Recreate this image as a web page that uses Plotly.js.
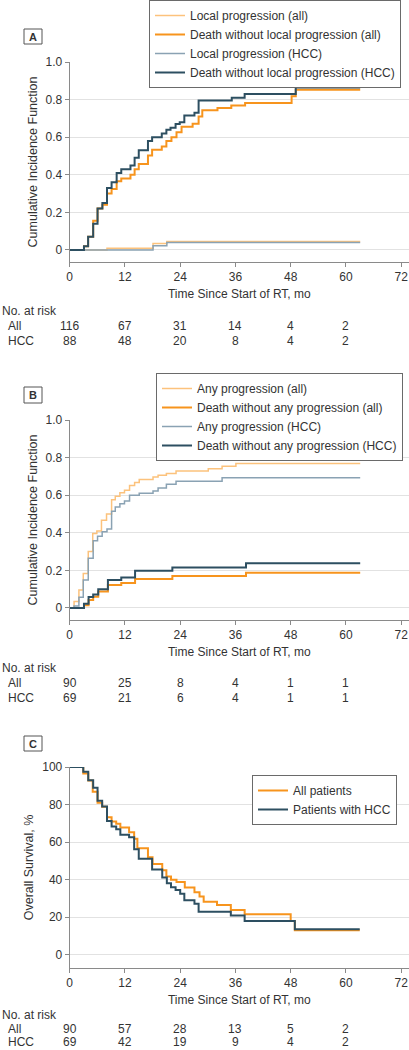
<!DOCTYPE html>
<html>
<head>
<meta charset="utf-8">
<script src="https://cdn.plot.ly/plotly-3.0.1.min.js"></script>
<style>html,body{margin:0;padding:0;background:#fff;}#chart{width:409px;height:1050px;}</style>
</head>
<body>
<div id="chart"></div>
<script>
// ---------- Data ----------
// Panel A: local progression / death without local progression
const aLocalAllT = [0, 8.1, 18.1, 21.1, 63.1];
const aLocalAllV = [0, 0.009, 0.035, 0.045, 0.045];
const aDeathAllT = [0, 3.1, 4.0, 5.1, 6.05, 7.1, 8.1, 9.1, 10.2, 11.2, 13.2, 14.1, 15.0, 17.0, 17.9, 20.0, 21.0, 22.1, 23.2, 24.3, 26.7, 28.0, 28.8, 32.1, 35.1, 38.1, 48.2, 49.1, 63.1];
const aDeathAllV = [0, 0.02, 0.07, 0.155, 0.22, 0.24, 0.30, 0.325, 0.365, 0.38, 0.40, 0.43, 0.457, 0.503, 0.533, 0.55, 0.58, 0.60, 0.626, 0.655, 0.672, 0.71, 0.743, 0.755, 0.768, 0.782, 0.818, 0.853, 0.853];
const aLocalHccT = [0, 8.1, 18.1, 21.1, 63.1];
const aLocalHccV = [0, 0, 0.022, 0.04, 0.04];
const aDeathHccT = [0, 3.1, 4.0, 5.1, 6.05, 7.1, 8.1, 9.1, 10.2, 11.2, 13.2, 14.1, 15.0, 17.0, 17.9, 20.0, 21.0, 21.9, 23.0, 23.9, 24.9, 27.1, 28.0, 35.2, 38.0, 49.1, 63.1];
const aDeathHccV = [0, 0.02, 0.07, 0.14, 0.22, 0.25, 0.33, 0.36, 0.41, 0.43, 0.45, 0.49, 0.53, 0.58, 0.60, 0.62, 0.64, 0.65, 0.67, 0.68, 0.715, 0.73, 0.795, 0.81, 0.83, 0.864, 0.864];
const aRiskAll = [116, 67, 31, 14, 4, 2];
const aRiskHcc = [88, 48, 20, 8, 4, 2];

// Panel B: any progression / death without any progression
const bProgAllT = [0, 0.95, 2.0, 2.95, 4.03, 5.0, 5.9, 6.9, 8.0, 9.1, 9.9, 10.9, 11.9, 13.0, 14.1, 15.1, 18.1, 19.2, 21.0, 23.1, 30.1, 33.1, 36.1, 63.1];
const bProgAllV = [0, 0.034, 0.096, 0.184, 0.30, 0.396, 0.41, 0.467, 0.50, 0.576, 0.594, 0.613, 0.626, 0.652, 0.667, 0.683, 0.697, 0.706, 0.715, 0.729, 0.741, 0.754, 0.768, 0.768];
const bDeathAllT = [0, 3.1, 4.1, 5.1, 6.2, 8.3, 11.2, 14.2, 22.3, 38.3, 63.1];
const bDeathAllV = [0, 0.015, 0.042, 0.06, 0.088, 0.122, 0.133, 0.154, 0.17, 0.188, 0.188];
const bProgHccT = [0, 0.95, 2.0, 2.95, 4.03, 5.1, 6.05, 7.05, 8.1, 9.1, 9.9, 10.9, 11.9, 13.0, 15.1, 18.1, 19.2, 21.0, 23.1, 33.1, 63.1];
const bProgHccV = [0, 0.01, 0.057, 0.149, 0.264, 0.357, 0.382, 0.405, 0.42, 0.515, 0.537, 0.555, 0.569, 0.60, 0.61, 0.622, 0.638, 0.658, 0.674, 0.693, 0.693];
const bDeathHccT = [0, 3.1, 4.1, 5.1, 6.2, 8.3, 11.2, 14.2, 22.3, 38.3, 63.1];
const bDeathHccV = [0, 0.022, 0.058, 0.071, 0.10, 0.149, 0.162, 0.198, 0.215, 0.238, 0.238];
const bRiskAll = [90, 25, 8, 4, 1, 1];
const bRiskHcc = [69, 21, 6, 4, 1, 1];

// Panel C: overall survival, %
const cAllT = [0, 2.95, 4.03, 5.0, 6.05, 7.05, 8.1, 9.1, 10.1, 11.0, 12.9, 14.0, 14.7, 17.0, 18.0, 20.1, 21.0, 22.0, 23.2, 25.0, 27.1, 28.2, 29.1, 32.0, 35.0, 38.0, 48.0, 48.9, 63.0];
const cAllV = [100, 96.5, 92.8, 86.8, 81, 78.8, 73.2, 71, 69.8, 67.8, 65.2, 61.8, 56.7, 52, 48.3, 45, 41.7, 40, 38.8, 35.9, 33.3, 31, 28.3, 26.5, 23.9, 21.6, 18.0, 13.1, 13.1];
const cHccT = [0, 2.95, 4.03, 5.1, 6.05, 7.05, 8.1, 9.1, 10.1, 11.0, 12.9, 14.0, 15.0, 17.9, 20.1, 21.1, 22.0, 23.0, 24.0, 24.9, 27.1, 28.0, 35.0, 38.0, 48.9, 63.0];
const cHccV = [100, 97.5, 93, 89, 82, 79, 71.2, 68.3, 66.8, 64, 62.6, 56.2, 51.2, 45.5, 41.2, 38.1, 36.0, 34.5, 32.5, 29.0, 27.2, 23.0, 20.9, 18.0, 13.6, 13.6];
const cRiskAll = [90, 57, 28, 13, 5, 2];
const cRiskHcc = [69, 42, 19, 9, 4, 2];

const riskTimes = [0, 12, 24, 36, 48, 60];
const xTicks = [0, 12, 24, 36, 48, 60, 72];
const cifTicks = [0, 0.2, 0.4, 0.6, 0.8, 1.0];
const cifTickText = ['0', '0.2', '0.4', '0.6', '0.8', '1.0'];
const osTicks = [0, 20, 40, 60, 80, 100];
const riskRowLabels = ['All', 'HCC'];

// ---------- Styling ----------
const FONT = 'Liberation Sans, Arial, sans-serif';
const TXT = '#333333';
const C_LIGHT_OR = '#fcc27c';
const C_OR = '#f7941d';
const C_LIGHT_BL = '#8aa2b3';
const C_DARK = '#2d4f61';
const W = 409, H = 1050;
const py = p => 1 - p / H;   // pixel-from-top -> paper y
const px = p => p / W;

function step(x, y, name, color, width, xa, ya, legend) {
  return {x: x, y: y, type: 'scatter', mode: 'lines', name: name,
    line: {shape: 'hv', color: color, width: width},
    xaxis: xa, yaxis: ya, legend: legend, hoverinfo: 'skip'};
}

const traces = [
  step(aLocalAllT, aLocalAllV, 'Local progression (all)', C_LIGHT_OR, 1.5, 'x', 'y', 'legend'),
  step(aDeathAllT, aDeathAllV, 'Death without local progression (all)', C_OR, 2, 'x', 'y', 'legend'),
  step(aLocalHccT, aLocalHccV, 'Local progression (HCC)', C_LIGHT_BL, 1.5, 'x', 'y', 'legend'),
  step(aDeathHccT, aDeathHccV, 'Death without local progression (HCC)', C_DARK, 2, 'x', 'y', 'legend'),

  step(bProgAllT, bProgAllV, 'Any progression (all)', C_LIGHT_OR, 1.5, 'x2', 'y2', 'legend2'),
  step(bDeathAllT, bDeathAllV, 'Death without any progression (all)', C_OR, 2, 'x2', 'y2', 'legend2'),
  step(bProgHccT, bProgHccV, 'Any progression (HCC)', C_LIGHT_BL, 1.5, 'x2', 'y2', 'legend2'),
  step(bDeathHccT, bDeathHccV, 'Death without any progression (HCC)', C_DARK, 2, 'x2', 'y2', 'legend2'),

  step(cAllT, cAllV, 'All patients', C_OR, 2, 'x3', 'y3', 'legend3'),
  step(cHccT, cHccV, 'Patients with HCC', C_DARK, 2, 'x3', 'y3', 'legend3')
];

function xAxis(anchor) {
  return {domain: [px(69.7), 1], range: [0, 73.7], anchor: anchor,
    tickvals: xTicks, ticks: 'outside', ticklen: 4, tickcolor: '#8a8a8a',
    ticklabeloverflow: 'allow',
    showline: true, linecolor: '#8a8a8a', linewidth: 1,
    showgrid: false, zeroline: false,
    tickfont: {size: 12, color: TXT},
    title: {text: 'Time Since Start of RT, mo', font: {size: 12, color: TXT}, standoff: 6}};
}
function yAxis(anchor, top, bottom, range, tv, tt, title) {
  return {domain: [py(bottom), py(top)], range: range, anchor: anchor,
    tickvals: tv, ticktext: tt, ticks: 'outside', ticklen: 4, tickcolor: '#8a8a8a',
    showline: true, linecolor: '#8a8a8a', linewidth: 1,
    showgrid: true, gridcolor: '#e2e2e2', gridwidth: 1, zeroline: false,
    tickfont: {size: 12, color: TXT},
    title: {text: title, font: {size: 12.5, color: TXT}, standoff: 5}};
}

function legendAt(left, top) {
  return {x: px(left), y: py(top), xanchor: 'left', yanchor: 'top',
    bgcolor: '#ffffff', bordercolor: '#6a6a6a', borderwidth: 1,
    font: {size: 12, color: TXT, family: FONT}, tracegroupgap: 0,
    itemclick: false, itemdoubleclick: false};
}

const annotations = [];
const shapes = [];

function panelLabel(letter, top, bottom) {
  shapes.push({type: 'rect', xref: 'paper', yref: 'paper',
    x0: px(24), x1: px(42), y0: py(bottom), y1: py(top),
    line: {color: '#555', width: 1}, fillcolor: '#fff'});
  annotations.push({text: '<b>' + letter + '</b>', xref: 'paper', yref: 'paper',
    x: px(33), y: py((top + bottom) / 2), xanchor: 'center', yanchor: 'middle',
    showarrow: false, font: {size: 11, color: '#333', family: FONT}});
}
panelLabel('A', 29, 44);
panelLabel('B', 387, 403);
panelLabel('C', 736, 751);

function riskTable(xref, yHead, yAll, yHcc, allVals, hccVals) {
  annotations.push({text: 'No. at risk', xref: 'paper', yref: 'paper', x: 0, y: py(yHead),
    xanchor: 'left', yanchor: 'middle', showarrow: false, font: {size: 12, color: TXT}});
  const rows = [[yAll, allVals], [yHcc, hccVals]];
  rows.forEach((r, i) => {
    annotations.push({text: riskRowLabels[i], xref: 'paper', yref: 'paper', x: px(6), y: py(r[0]),
      xanchor: 'left', yanchor: 'middle', showarrow: false, font: {size: 12, color: TXT}});
    r[1].forEach((v, j) => {
      annotations.push({text: String(v), xref: xref, yref: 'paper', x: riskTimes[j], y: py(r[0]),
        xanchor: 'center', yanchor: 'middle', showarrow: false, font: {size: 12, color: TXT}});
    });
  });
}
riskTable('x', 311, 326, 341, aRiskAll, aRiskHcc);
riskTable('x2', 668, 683, 698, bRiskAll, bRiskHcc);
riskTable('x3', 1015, 1029, 1042, cRiskAll, cRiskHcc);

const layout = {
  width: W, height: H,
  margin: {l: 0, r: 0, t: 0, b: 0},
  paper_bgcolor: '#fff', plot_bgcolor: '#fff',
  font: {family: FONT, size: 12, color: TXT},
  showlegend: true,
  xaxis: xAxis('y'),
  yaxis: yAxis('x', 62, 262, [-0.064, 1.0], cifTicks, cifTickText, 'Cumulative Incidence Function'),
  xaxis2: xAxis('y2'),
  yaxis2: yAxis('x2', 420, 620, [-0.064, 1.0], cifTicks, cifTickText, 'Cumulative Incidence Function'),
  xaxis3: xAxis('y3'),
  yaxis3: yAxis('x3', 767, 968, [-7, 100], osTicks, osTicks.map(String), 'Overall Survival, %'),
  legend: legendAt(149, 0),
  legend2: legendAt(156, 373),
  legend3: legendAt(252, 775),
  annotations: annotations,
  shapes: shapes
};

Plotly.newPlot('chart', traces, layout, {staticPlot: true, displayModeBar: false});
</script>
</body>
</html>
